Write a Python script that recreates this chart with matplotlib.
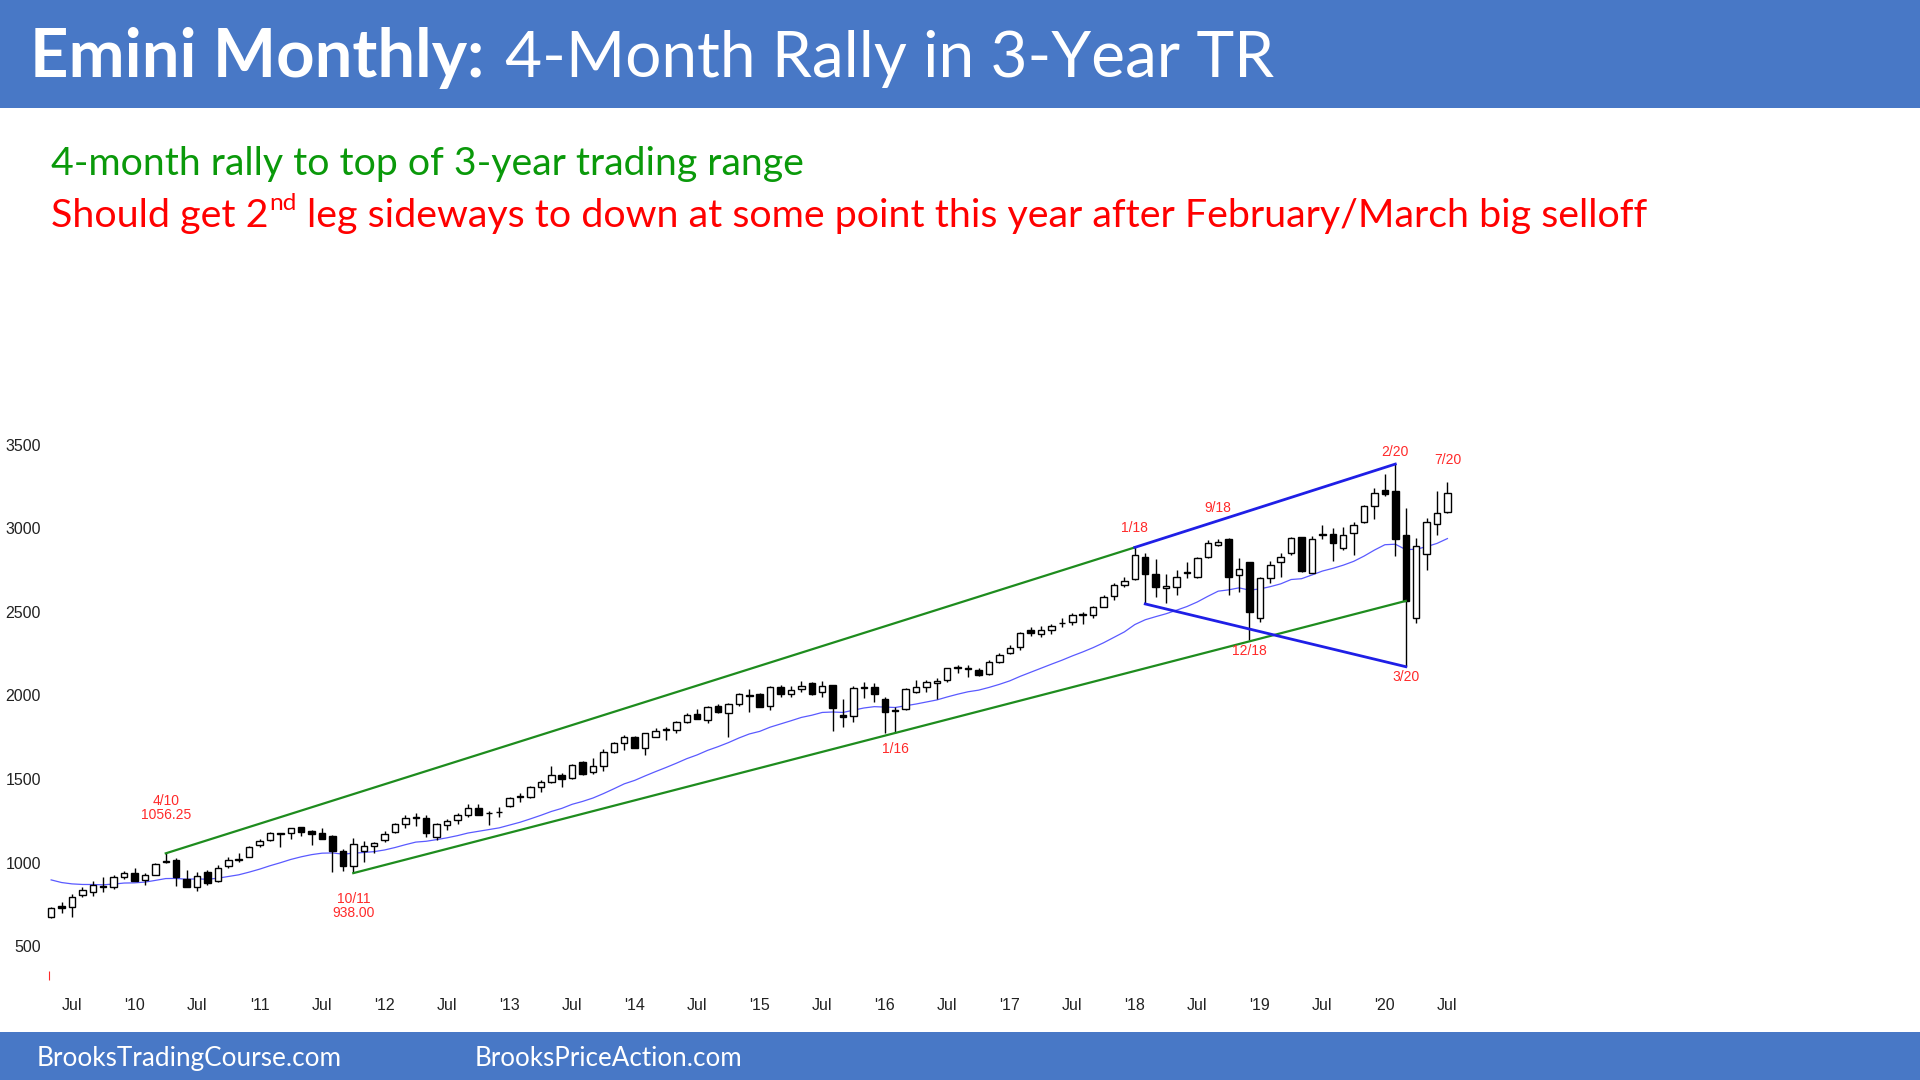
import numpy as np
import matplotlib
matplotlib.use('Agg')
import matplotlib.pyplot as plt
from matplotlib.patches import Rectangle

W, H = 1920, 1080

# Emini monthly bars (back-adjusted), May 2009 .. Jul 2020
# month numbers are counted from Jan 2010 = 0
first_month = -8
opens = [674, 742, 734, 807, 827, 863, 853, 913,
         941, 897, 927, 1004, 1016, 901, 857, 947, 891, 983, 1016, 1032,
         1106, 1136, 1176, 1176, 1216, 1190, 1176, 1160, 1072, 981, 1072, 1102,
         1136, 1182, 1232, 1276, 1270, 1156, 1226, 1256, 1285, 1325, 1295, 1301,
         1339, 1395, 1391, 1455, 1485, 1524, 1504, 1600, 1544, 1580, 1664, 1714,
         1754, 1688, 1754, 1796, 1794, 1843, 1887, 1853, 1937, 1897, 1947, 2005,
         2007, 1937, 2049, 2009, 2039, 2072, 2023, 2062, 1883, 1877, 2042, 2052,
         1979, 1913, 1919, 2019, 2048, 2072, 2092, 2168, 2164, 2152, 2128, 2202,
         2256, 2288, 2391, 2367, 2391, 2431, 2441, 2483, 2481, 2531, 2594, 2660,
         2696, 2830, 2726, 2640, 2646, 2734, 2706, 2826, 2899, 2933, 2720, 2800,
         2465, 2700, 2800, 2850, 2945, 2734, 2959, 2965, 2879, 2969, 3039, 3132,
         3228, 3224, 2959, 2465, 2844, 3025, 3099]
highs = [738, 767, 811, 853, 893, 917, 927, 951,
         971, 937, 997, 1056.25, 1026, 957, 947, 957, 987, 1032, 1060, 1100,
         1140, 1182, 1180, 1208, 1216, 1196, 1206, 1166, 1080, 1146, 1130, 1126,
         1190, 1240, 1285, 1295, 1285, 1240, 1260, 1299, 1351, 1351, 1309, 1335,
         1395, 1419, 1459, 1495, 1580, 1538, 1590, 1608, 1628, 1678, 1724, 1764,
         1758, 1778, 1804, 1813, 1847, 1893, 1917, 1937, 1947, 1953, 2013, 2036,
         2017, 2058, 2062, 2056, 2086, 2082, 2086, 2062, 1977, 2056, 2078, 2072,
         1989, 1933, 2042, 2092, 2092, 2102, 2166, 2182, 2182, 2162, 2212, 2256,
         2302, 2381, 2407, 2415, 2427, 2461, 2491, 2501, 2535, 2600, 2670, 2710,
         2885, 2850, 2814, 2726, 2750, 2800, 2826, 2929, 2933, 2943, 2820, 2800,
         2710, 2806, 2853, 2945, 2949, 2953, 3019, 2999, 3009, 3039, 3138, 3238,
         3322, 3383, 3118, 2939, 3059, 3224, 3274]
lows = [668, 698, 678, 793, 801, 827, 841, 901,
        891, 867, 927, 997, 861, 853, 833, 867, 887, 967, 1006, 1032,
        1096, 1130, 1092, 1140, 1160, 1106, 1140, 947, 950, 938, 1006, 1060,
        1126, 1180, 1206, 1220, 1156, 1136, 1196, 1230, 1271, 1285, 1225, 1271,
        1331, 1365, 1385, 1425, 1475, 1455, 1500, 1524, 1530, 1550, 1658, 1674,
        1684, 1644, 1750, 1734, 1778, 1837, 1857, 1833, 1893, 1750, 1937, 1903,
        1929, 1913, 1993, 1993, 2023, 2003, 1993, 1789, 1809, 1843, 1983, 1963,
        1777, 1777, 1913, 2013, 2023, 1977, 2082, 2132, 2112, 2116, 2122, 2192,
        2248, 2272, 2355, 2347, 2367, 2407, 2421, 2427, 2461, 2527, 2570, 2646,
        2690, 2547, 2590, 2555, 2600, 2700, 2700, 2820, 2893, 2600, 2620, 2332,
        2441, 2674, 2710, 2840, 2740, 2730, 2933, 2806, 2870, 2840, 3033, 3053,
        3192, 2834, 2172, 2431, 2750, 2959, 3093]
closes = [732, 732, 797, 837, 867, 853, 913, 937,
          891, 927, 991, 1010, 913, 857, 923, 881, 967, 1016, 1022, 1096,
          1130, 1176, 1172, 1206, 1186, 1172, 1140, 1072, 983, 1110, 1102, 1116,
          1170, 1230, 1270, 1270, 1176, 1232, 1252, 1285, 1325, 1285, 1299, 1305,
          1385, 1401, 1455, 1485, 1524, 1500, 1582, 1530, 1580, 1664, 1714, 1754,
          1688, 1774, 1788, 1802, 1839, 1881, 1859, 1929, 1903, 1949, 2007, 1999,
          1933, 2049, 2009, 2033, 2058, 2007, 2056, 1927, 1873, 2042, 2048, 2009,
          1903, 1907, 2036, 2048, 2078, 2088, 2162, 2164, 2160, 2122, 2202, 2242,
          2286, 2371, 2371, 2391, 2417, 2434, 2481, 2486, 2531, 2590, 2660, 2686,
          2840, 2726, 2646, 2654, 2710, 2740, 2820, 2909, 2919, 2706, 2756, 2501,
          2704, 2780, 2826, 2939, 2744, 2933, 2965, 2913, 2959, 3019, 3132, 3212,
          3204, 2933, 2565, 2893, 3039, 3093, 3212]
ma_start = 915  # 20-bar EMA value carried in from before the first bar

tick_months = list(range(-6, 127, 6))
tick_labels = ["Jul", "'10", "Jul", "'11", "Jul", "'12", "Jul", "'13", "Jul", "'14",
               "Jul", "'15", "Jul", "'16", "Jul", "'17", "Jul", "'18", "Jul", "'19",
               "Jul", "'20", "Jul"]
y_ticks = [500, 1000, 1500, 2000, 2500, 3000, 3500]

bar_blue = '#4878C6'
green = '#1E8C1E'
line_blue = '#1F1FE6'
red_lbl = '#FF2A2A'


def fx(x):
    return x / W


def fy(y):
    return 1 - y / H


fig = plt.figure(figsize=(19.2, 10.8), dpi=100)
fig.patch.set_facecolor('white')

# header and footer bars
fig.add_artist(Rectangle((0, fy(108)), 1, 108 / H, transform=fig.transFigure,
                         facecolor=bar_blue, edgecolor='none', zorder=0))
fig.add_artist(Rectangle((0, 0), 1, (H - 1032) / H, transform=fig.transFigure,
                         facecolor=bar_blue, edgecolor='none', zorder=0))

# price panel
ax = fig.add_axes([fx(45), fy(985), (1480 - 45) / W, (985 - 430) / H])
ax.set_xlim((45 - 134.5) / 10.42, (1480 - 134.5) / 10.42)
ax.set_ylim(269.3, 3586.7)
for s in ax.spines.values():
    s.set_visible(False)

m = np.arange(first_month, first_month + len(closes))
o, h, l, c = (np.array(v, dtype=float) for v in (opens, highs, lows, closes))
up = c >= o

ax.vlines(m, l, h, color='black', lw=1.0, zorder=2)
ax.bar(m, np.abs(c - o), bottom=np.minimum(o, c), width=0.62,
       color=np.where(up, 'white', 'black'), edgecolor='black', lw=1.0, zorder=3)

# 20 bar exponential moving average of the closes
ema = []
e = ma_start
for v in closes:
    e += (v - e) * 2 / 21
    ema.append(e)
ax.plot(m, ema, color='#5A5AFF', lw=0.9, zorder=1)


def at(month):
    return month - first_month


# trend channel lines
ax.plot([3, 96], [h[at(3)], h[at(96)]], color=green, lw=1.6, zorder=4)
ax.plot([21, 122], [l[at(21)], c[at(122)]], color=green, lw=1.6, zorder=4)
ax.plot([96, 121], [h[at(96)], h[at(121)]], color=line_blue, lw=2.0, zorder=4)
ax.plot([97, 122], [l[at(97)], l[at(122)]], color=line_blue, lw=2.0, zorder=4)

# little red mark at the bottom left
ax.vlines(-8.2, 300, 353, color=red_lbl, lw=0.8)

# red date labels
lab_kw = dict(color=red_lbl, fontsize=10, family='Liberation Sans', ha='center', va='center',
              linespacing=1.0, zorder=5)
ax.text(3, 1327, "4/10\n1056.25", **lab_kw)
ax.text(21, 742, "10/11\n938.00", **lab_kw)
ax.text(73, 1680, "1/16", **lab_kw)
ax.text(96, 3002, "1/18", **lab_kw)
ax.text(104, 3120, "9/18", **lab_kw)
ax.text(107, 2263, "12/18", **lab_kw)
ax.text(121, 3455, "2/20", **lab_kw)
ax.text(122, 2110, "3/20", **lab_kw)
ax.text(126, 3407, "7/20", **lab_kw)

ax.set_xticks(tick_months)
ax.set_xticklabels(tick_labels)
ax.set_yticks(y_ticks)
ax.tick_params(length=0, labelsize=11.5, labelcolor='#222222')
ax.tick_params(axis='x', pad=9)
ax.tick_params(axis='y', pad=3)
for t in ax.get_xticklabels() + ax.get_yticklabels():
    t.set_family('Liberation Sans')

# ---- text blocks, fitted to the widths in the slide ----
fig.canvas.draw()
r = fig.canvas.get_renderer()


def width(t):
    return t.get_window_extent(r).width


def fit(t, target):
    for _ in range(2):
        t.set_fontsize(t.get_fontsize() * target / width(t))


t1 = fig.text(fx(30), fy(77), "Emini Monthly:", color='white', fontsize=40,
              family='Lato', weight='bold', va='baseline')
fit(t1, 454)
t2 = fig.text(fx(505), fy(77), "4-Month Rally in 3-Year TR", color='white', fontsize=40,
              family='Lato', va='baseline')
fit(t2, 768)

g1 = fig.text(fx(51), fy(175), "4-month rally to top of 3-year trading range",
              color='#0A990A', fontsize=24, family='Lato', va='baseline')
fit(g1, 753)

# red line with a superscript "nd"
base2 = 227
fs = 24
pa = fig.text(0, fy(base2), "Should get 2", color='red', family='Lato', va='baseline')
ps = fig.text(0, fy(base2), "nd", color='red', family='Lato', va='baseline')
pb = fig.text(0, fy(base2), "leg sideways to down at some point this year after February/March big selloff",
              color='red', family='Lato', va='baseline')
sp = fig.text(0, 0, "a a", family='Lato', alpha=0)
sp2 = fig.text(0, 0, "aa", family='Lato', alpha=0)


def layout(size):
    for t in (pa, pb, sp, sp2):
        t.set_fontsize(size)
    ps.set_fontsize(size * 0.62)
    gap = width(sp) - width(sp2)
    x = 51
    pa.set_x(fx(x))
    x += width(pa) + 1
    ps.set_x(fx(x))
    ps.set_y(fy(base2) + (size * 0.42 * 100 / 72) / H)
    x += width(ps) + gap
    pb.set_x(fx(x))
    x += width(pb)
    return x - 51


total = layout(fs)
fs = fs * 1594 / total
total = layout(fs)
fs = fs * 1594 / total
layout(fs)

f1 = fig.text(fx(37), fy(1066), "BrooksTradingCourse.com", color='white', fontsize=16,
              family='Lato', va='baseline')
fit(f1, 305)
f2 = fig.text(fx(475), fy(1066), "BrooksPriceAction.com", color='white', fontsize=16,
              family='Lato', va='baseline')
fit(f2, 268)

fig.savefig('out.png', dpi=100)
